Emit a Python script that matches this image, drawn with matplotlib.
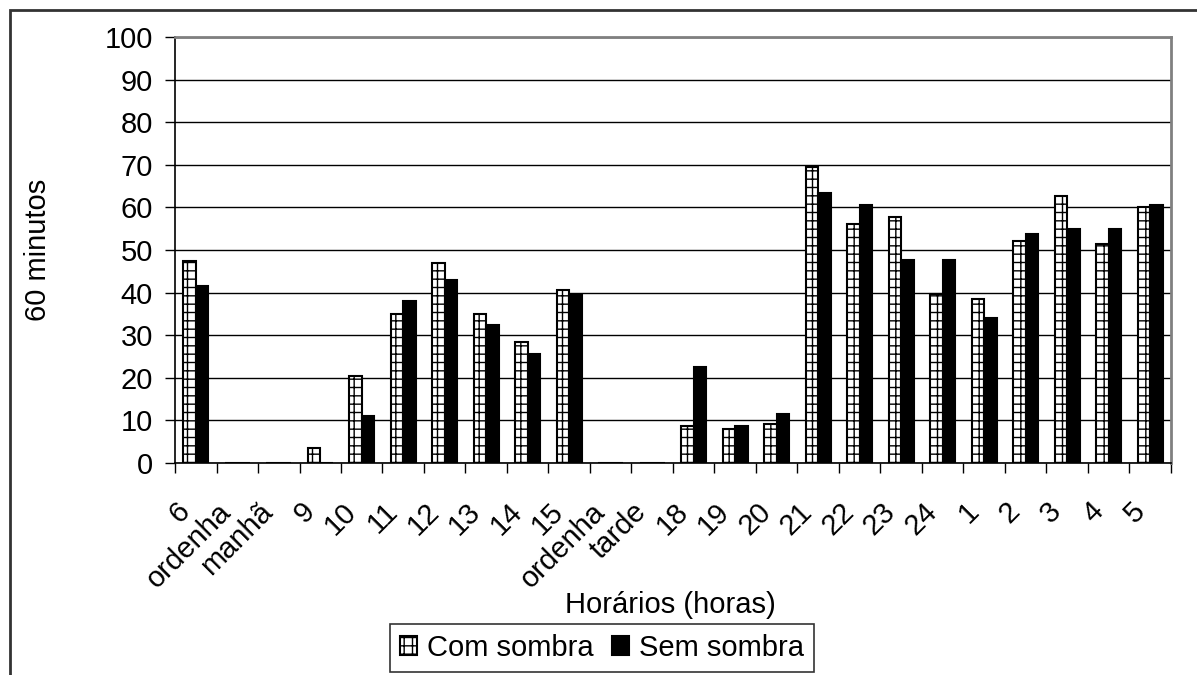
import numpy as np
import matplotlib
matplotlib.use("Agg")
import matplotlib.pyplot as plt
from matplotlib.patches import Rectangle
from matplotlib.transforms import ScaledTranslation

plt.rcParams["font.family"] = ["Liberation Sans", "DejaVu Sans"]
plt.rcParams["hatch.color"] = "#707070"
plt.rcParams["hatch.linewidth"] = 1.0

categorias = ["6", "ordenha", "manhã", "9", "10", "11", "12", "13", "14", "15",
              "ordenha", "tarde", "18", "19", "20", "21", "22", "23", "24",
              "1", "2", "3", "4", "5"]
com_sombra = [47.5, 0, 0, 3.5, 20.5, 35, 47, 35, 28.5, 40.5,
              0, 0, 8.6, 8.0, 9.1, 69.6, 56, 57.7, 39.7,
              38.5, 52.0, 62.7, 51.4, 60.0]
sem_sombra = [41.5, 0, 0, 0, 11, 38, 43, 32.5, 25.5, 39.5,
              0, 0, 22.5, 8.6, 11.5, 63.4, 60.6, 47.6, 47.6,
              34.0, 53.8, 54.9, 54.9, 60.6]

W, H = 1197, 675
FS = 21
fig = plt.figure(figsize=(W / 100, H / 100), dpi=100)
ax = fig.add_axes([175 / W, 1 - 463 / H, (1171 - 175) / W, (463 - 37) / H])

x = np.arange(len(categorias))
bw = 0.3
ax.bar(x - bw / 2, com_sombra, bw, color="white", edgecolor="black",
       linewidth=1.5, hatch="++", label="Com sombra", zorder=3)
ax.bar(x + bw / 2, sem_sombra, bw, color="black", edgecolor="black",
       linewidth=1.5, label="Sem sombra", zorder=3)

ax.set_xlim(-0.5, len(categorias) - 0.5)
ax.set_ylim(0, 100)
ax.set_yticks(range(0, 101, 10))
ax.tick_params(axis="y", labelsize=FS, direction="out", length=7, width=1, pad=9)
ax.set_xticks(np.arange(len(categorias) + 1) - 0.5)
ax.set_xticklabels([])
ax.tick_params(axis="x", which="major", direction="out", length=7, width=1)
ax.set_xticks(x, minor=True)
ax.set_xticklabels(categorias, minor=True, rotation=45, ha="right",
                   rotation_mode="anchor", fontsize=FS)
ax.tick_params(axis="x", which="minor", length=0, pad=14)
# deslocar os rótulos inclinados como no original
off = ScaledTranslation(-20 / 100, -15 / 100, fig.dpi_scale_trans)
for lab in ax.get_xticklabels(minor=True):
    lab.set_transform(lab.get_transform() + off)
ax.grid(axis="y", color="black", linewidth=1, zorder=0)

for s in ["top", "right"]:
    ax.spines[s].set_color("#808080")
    ax.spines[s].set_linewidth(2)
ax.spines["left"].set_linewidth(1.2)
ax.spines["bottom"].set_linewidth(1.2)

ax.set_ylabel("60 minutos", fontsize=FS)
ax.yaxis.set_label_coords((52 - 175) / (1171 - 175), 0.5)
fig.text(670 / W, 1 - 605 / H, "Horários (horas)", fontsize=FS,
         ha="center", va="center")

leg = fig.legend(loc="center", bbox_to_anchor=(602 / W, 1 - 648 / H),
                 ncol=2, fontsize=FS, frameon=True, fancybox=False,
                 handlelength=0.6, handleheight=0.6, handletextpad=0.35,
                 columnspacing=0.6, borderpad=0.35, borderaxespad=0)
leg.get_frame().set_edgecolor("black")
leg.get_frame().set_linewidth(1.2)

fig.patches.append(Rectangle((10 / W, -0.1), 1.2, 1 - 10 / H + 0.1,
                             transform=fig.transFigure, fill=False,
                             edgecolor="#333333", linewidth=2))

fig.savefig("out.png", dpi=100)
